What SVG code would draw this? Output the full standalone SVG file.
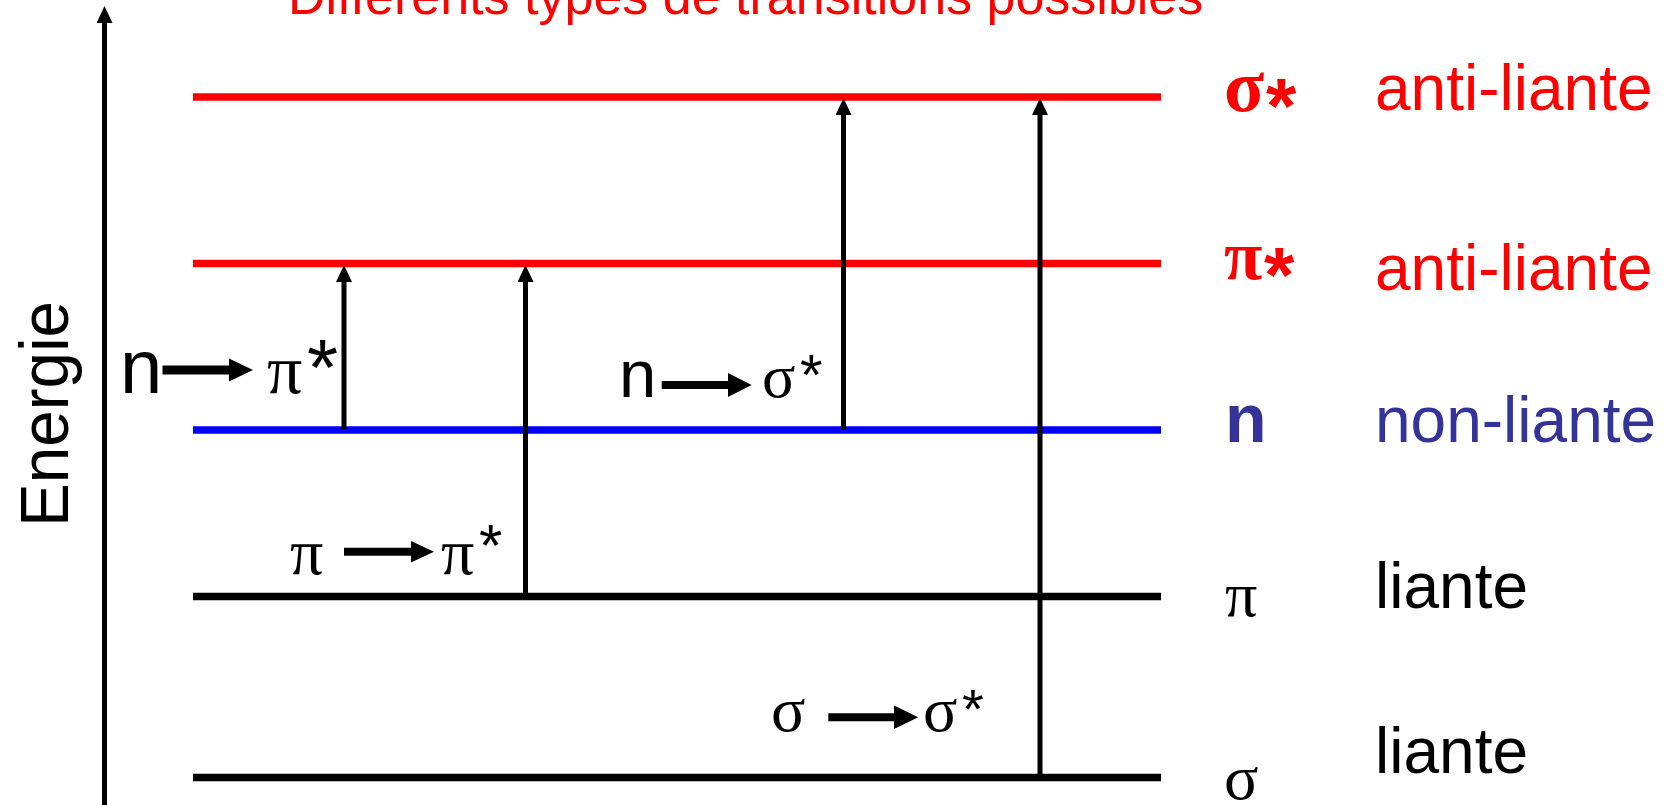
<svg xmlns="http://www.w3.org/2000/svg" width="1668" height="805" viewBox="0 0 1668 805">
<defs>
<style>
.lvl{stroke-width:7.5;fill:none}
.red{stroke:#FF0000}
.blue{stroke:#0000FF}
.blk{stroke:#000}
.sans{font-family:"Liberation Sans",Arial,sans-serif}
.serif{font-family:"Liberation Serif","Times New Roman",serif}
.desc{font-size:64px}
.tr{stroke:#000;stroke-width:5;fill:none}
</style>
<marker id="ah" markerUnits="userSpaceOnUse" markerWidth="18" markerHeight="17" refX="1" refY="8" orient="auto">
<path d="M0,0 L17,8 L0,16 z" fill="#000"/>
</marker>
</defs>
<rect width="1668" height="805" fill="#fff"/>

<g id="title">
<text x="288" y="14" class="sans" font-size="52" fill="#FF0000">Différents types de transitions possibles</text>
</g>

<g id="axis">
<line x1="104.5" y1="805" x2="104.5" y2="22" class="tr" marker-end="url(#ah)"/>
<text transform="translate(68,527) rotate(-90)" class="sans" font-size="68" fill="#000" textLength="226" lengthAdjust="spacingAndGlyphs">Energie</text>
</g>

<g id="level-sigma-star">
<line x1="193" y1="97" x2="1161" y2="97" class="lvl red"/>
<text x="1224" y="111" class="serif" font-size="74" font-weight="bold" fill="#FF0000">σ</text>
<text x="1266" y="133" class="sans" font-size="78" font-weight="bold" fill="#FF0000">*</text>
<text x="1375" y="109.5" class="sans desc" fill="#FF0000">anti-liante</text>
</g>

<g id="level-pi-star">
<line x1="193" y1="263.5" x2="1161" y2="263.5" class="lvl red"/>
<text x="1224" y="278.5" class="serif" font-size="70" font-weight="bold" fill="#FF0000">π</text>
<text x="1264" y="302" class="sans" font-size="78" font-weight="bold" fill="#FF0000">*</text>
<text x="1375" y="290" class="sans desc" fill="#FF0000">anti-liante</text>
</g>

<g id="level-n">
<line x1="193" y1="430" x2="1161" y2="430" class="lvl blue"/>
<text x="1225" y="441.7" class="sans" font-size="68" font-weight="bold" fill="#333399">n</text>
<text x="1375" y="441.7" class="sans desc" fill="#333399">non-liante</text>
</g>

<g id="level-pi">
<line x1="193" y1="596.5" x2="1161" y2="596.5" class="lvl blk"/>
<text x="1225" y="616" class="serif" font-size="64" fill="#000">π</text>
<text x="1375" y="608.3" class="sans desc" fill="#000">liante</text>
</g>

<g id="level-sigma">
<line x1="193" y1="777.5" x2="1161" y2="777.5" class="lvl blk"/>
<text x="1224" y="799" class="serif" font-size="64" fill="#000">σ</text>
<text x="1375" y="773.3" class="sans desc" fill="#000">liante</text>
</g>

<g id="connectors">
<line x1="344" y1="430" x2="344" y2="281" class="tr" marker-end="url(#ah)"/>
<line x1="525.5" y1="596.5" x2="525.5" y2="281" class="tr" marker-end="url(#ah)"/>
<line x1="843.5" y1="430" x2="843.5" y2="114" class="tr" marker-end="url(#ah)"/>
<line x1="1040" y1="777.5" x2="1040" y2="114" class="tr" marker-end="url(#ah)"/>
</g>

<g id="label-n-pi">
<text x="120" y="392.7" class="sans" font-size="76" fill="#000">n</text>
<path d="M162.5,365.5 H229 V358.5 L253,370 L229,381.5 V374.5 H162.5 z" fill="#000"/>
<text x="267" y="393.3" class="serif" font-size="70" fill="#000">π</text>
<text x="307" y="395" class="sans" font-size="80" fill="#000">*</text>
</g>

<g id="label-n-sigma">
<text x="619" y="396.7" class="sans" font-size="67" fill="#000">n</text>
<path d="M661.7,381 H728 V373 L751.7,385 L728,397 V389 H661.7 z" fill="#000"/>
<text x="762" y="396.7" class="serif" font-size="62" fill="#000">σ</text>
<text x="800" y="395" class="sans" font-size="58" fill="#000">*</text>
</g>

<g id="label-pi-pi">
<text x="290" y="574" class="serif" font-size="66" fill="#000">π</text>
<path d="M344,547.7 H411 V541 L434,551.7 L411,562.4 V555.7 H344 z" fill="#000"/>
<text x="441" y="574" class="serif" font-size="66" fill="#000">π</text>
<text x="479" y="566" class="sans" font-size="60" fill="#000">*</text>
</g>

<g id="label-sigma-sigma">
<text x="771" y="730.7" class="serif" font-size="64" fill="#000">σ</text>
<path d="M828.3,713.3 H894 V705.6 L918.3,717.3 L894,729 V721.3 H828.3 z" fill="#000"/>
<text x="923" y="730.7" class="serif" font-size="64" fill="#000">σ</text>
<text x="962" y="728" class="sans" font-size="56" fill="#000">*</text>
</g>
</svg>
